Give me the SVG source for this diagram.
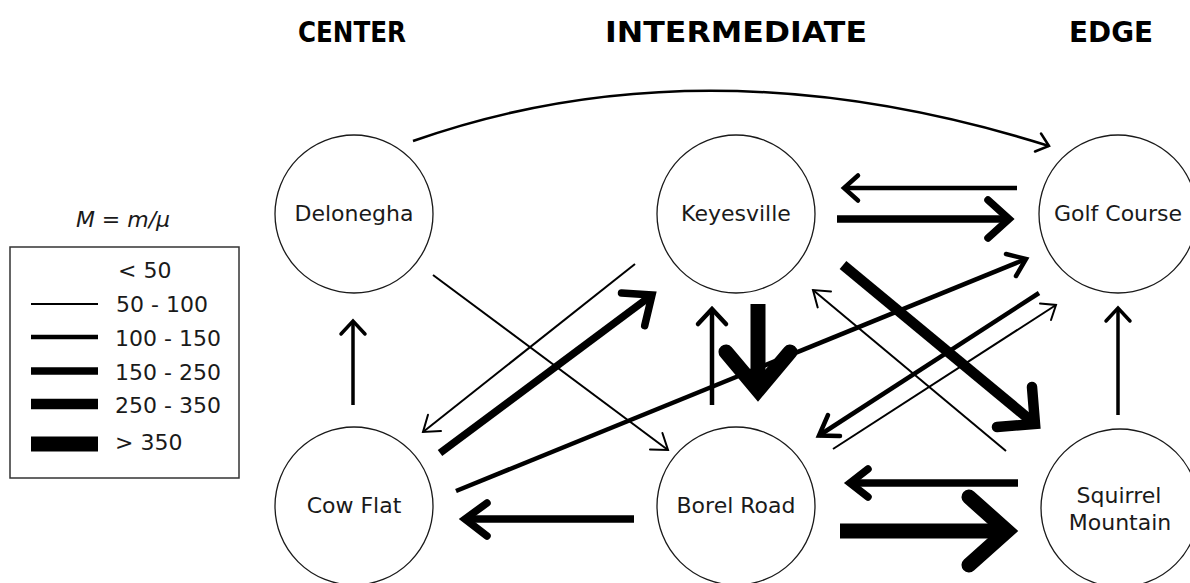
<svg xmlns="http://www.w3.org/2000/svg" width="1190" height="583" viewBox="0 0 1190 583">
<style>
.node circle{fill:#fff;stroke:#1a1a1a;stroke-width:1.3}
.lbl{font-family:"DejaVu Sans",Verdana,sans-serif;font-size:22px;fill:#1a1a1a;text-anchor:middle}
.hdr{font-family:"DejaVu Sans",Verdana,sans-serif;font-weight:bold;font-size:29px;fill:#000;text-anchor:middle}
.leg{font-family:"DejaVu Sans",Verdana,sans-serif;font-size:22px;fill:#1a1a1a}
.e path{fill:none;stroke:#000}
.hd{stroke-linecap:round;stroke-linejoin:miter;stroke-miterlimit:10}
.w2{stroke-width:2}
.w25{stroke-width:2.5}
.w3{stroke-width:3.5}
.w4{stroke-width:4.5}
.w7{stroke-width:7.5}
.w10{stroke-width:10.5}
.w15{stroke-width:15}
.key line{stroke:#000}
</style>
<rect width="1190" height="583" fill="#fff"/>
<g id="headers">
<text class="hdr" x="352" y="42" textLength="108" lengthAdjust="spacingAndGlyphs">CENTER</text>
<text class="hdr" x="736" y="42" textLength="262" lengthAdjust="spacingAndGlyphs">INTERMEDIATE</text>
<text class="hdr" x="1111" y="42" textLength="84" lengthAdjust="spacingAndGlyphs">EDGE</text>
</g>
<g id="delonegha" class="node"><circle cx="354" cy="214" r="79"/><text class="lbl" x="354" y="221">Delonegha</text></g>
<g id="keyesville" class="node"><circle cx="736" cy="214" r="79"/><text class="lbl" x="736" y="221">Keyesville</text></g>
<g id="golf-course" class="node"><circle cx="1118" cy="214" r="79"/><text class="lbl" x="1118" y="221">Golf Course</text></g>
<g id="cow-flat" class="node"><circle cx="354" cy="506" r="79"/><text class="lbl" x="354" y="513">Cow Flat</text></g>
<g id="borel-road" class="node"><circle cx="736" cy="506" r="79"/><text class="lbl" x="736" y="513">Borel Road</text></g>
<g id="squirrel-mountain" class="node"><circle cx="1120" cy="508" r="79"/><text class="lbl" x="1119" y="503">Squirrel</text><text class="lbl" x="1120" y="530">Mountain</text></g>
<g id="connectors" class="e">
<g class="w25"><path d="M413,141 Q705,38 1049,146"/><path class="hd" d="M1041,133.5 L1049,146 L1035,151.5"/></g>
<g class="w4"><path d="M1017,188 L844,188"/><path class="hd" d="M858,175.5 L844,188 L858,200.5"/></g>
<g class="w7"><path d="M837,219 L1009,219"/><path class="hd" d="M988,200 L1009,219 L988,238"/></g>
<g class="w10"><path d="M843,265 L1035,424"/><path class="hd" d="M1032,387 L1035,424 L997,427"/></g>
<g class="w4"><path d="M1039,293 L819,435.5"/><path class="hd" d="M828,415 L819,435.5 L840,436"/></g>
<g class="w2"><path d="M833,449 L1056,305"/><path class="hd" d="M1040,303.5 L1056,305 L1051,320"/></g>
<g class="w2"><path d="M1006,451 L813,290"/><path class="hd" d="M831,291.5 L813,290 L817.7,307.4"/></g>
<g class="w4"><path d="M456,491 L1026,259"/><path class="hd" d="M1006,254 L1026,259 L1016,276"/></g>
<g class="w7"><path d="M440,453 L652,295"/><path class="hd" d="M621.5,293 L652,295 L644.7,325.6"/></g>
<g class="w2"><path d="M635,264 L423,432"/><path class="hd" d="M441,431 L423,432 L428,414.7"/></g>
<g class="w2"><path d="M433,275 L668,450"/><path class="hd" d="M650,449.5 L668,450 L662.4,433"/></g>
<g class="w4"><path d="M712,405 L712,309"/><path class="hd" d="M698,324 L712,309 L726,324"/></g>
<g class="w15"><path d="M758,304 L758,390"/><path class="hd" d="M726,352 L758,390 L790,352"/></g>
<g class="w3"><path d="M353,405 L353,321"/><path class="hd" d="M341,334 L353,321 L365,334"/></g>
<g class="w3"><path d="M1118,415 L1118,308"/><path class="hd" d="M1106,321 L1118,308 L1130,321"/></g>
<g class="w7"><path d="M1018,483 L850,483"/><path class="hd" d="M868,469 L850,483 L868,497"/></g>
<g class="w15"><path d="M840,531 L1007,531"/><path class="hd" d="M969,497 L1007,531 L969,565"/></g>
<g class="w7"><path d="M634,519 L465,519"/><path class="hd" d="M487,503 L465,519 L487,536"/></g>
</g>
<g id="legend" class="key">
<text class="leg" x="123" y="227" text-anchor="middle" font-style="italic">M = m/μ</text>
<rect x="10" y="247" width="229" height="231" fill="none" stroke="#333" stroke-width="1.5"/>
<text class="leg" x="118" y="278">&lt; 50</text>
<line x1="31" y1="304" x2="98" y2="304" stroke-width="2"/>
<text class="leg" x="116" y="312">50 - 100</text>
<line x1="31" y1="337" x2="98" y2="337" stroke-width="4.5"/>
<text class="leg" x="115" y="346">100 - 150</text>
<line x1="31" y1="371" x2="98" y2="371" stroke-width="7.5"/>
<text class="leg" x="115" y="380">150 - 250</text>
<line x1="31" y1="404" x2="98" y2="404" stroke-width="10.5"/>
<text class="leg" x="115" y="413">250 - 350</text>
<line x1="31" y1="444" x2="98" y2="444" stroke-width="15"/>
<text class="leg" x="115" y="450">&gt; 350</text>
</g>
</svg>
